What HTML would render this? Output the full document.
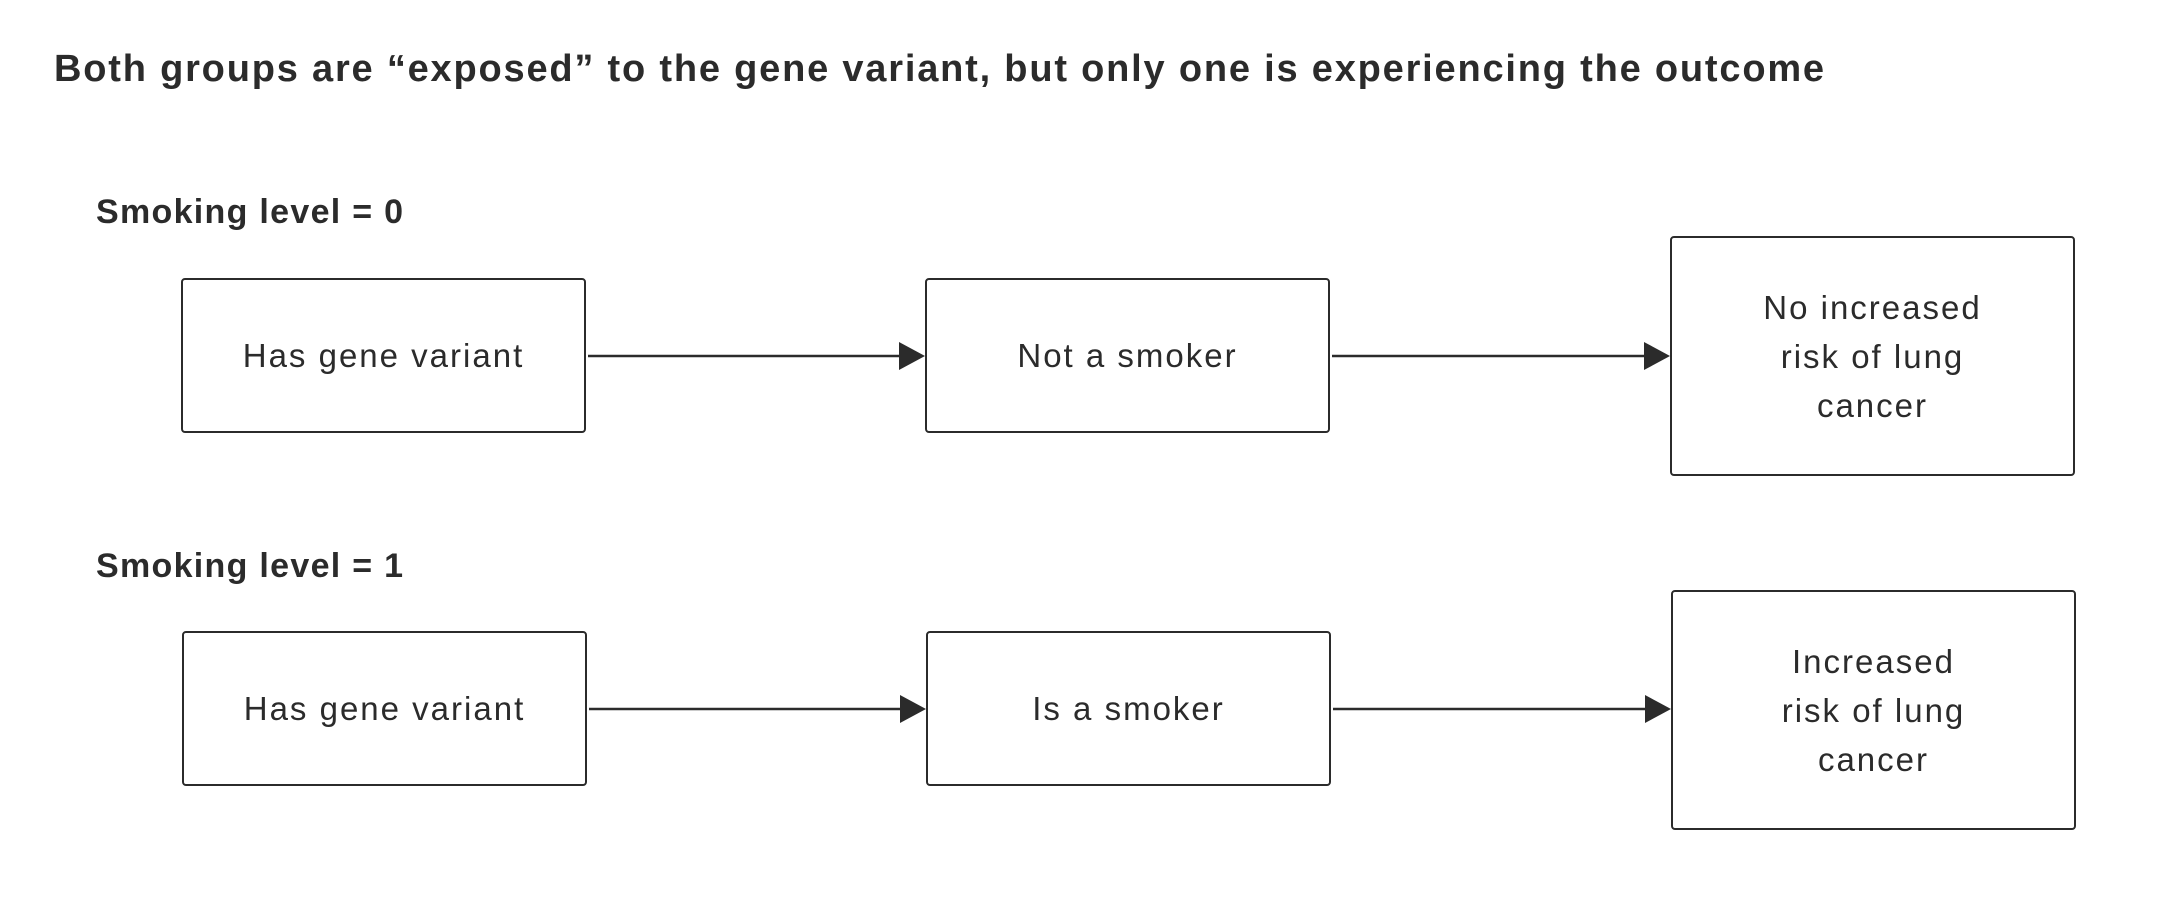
<!DOCTYPE html>
<html><head><meta charset="utf-8"><style>
body{margin:0;width:2171px;height:902px;background:#fff;position:relative;overflow:hidden;font-family:"Liberation Sans",sans-serif;color:#2b2b2b}
.t{position:absolute;white-space:nowrap;font-weight:bold}
.b{position:absolute;border:2.5px solid #2b2b2b;border-radius:4px;box-sizing:border-box;display:flex;align-items:center;justify-content:center;text-align:center;font-size:33px;line-height:49px;letter-spacing:2px}
</style></head><body>
<div class="t" style="left:54px;top:48px;font-size:38px;letter-spacing:1.8px">Both groups are “exposed” to the gene variant, but only one is experiencing the outcome</div>
<div class="t" style="left:96px;top:193px;font-size:34px;letter-spacing:1.3px">Smoking level = 0</div>
<div class="t" style="left:96px;top:547px;font-size:34px;letter-spacing:1.3px">Smoking level = 1</div>

<div class="b" style="left:181px;top:278px;width:405px;height:155px">Has gene variant</div>
<div class="b" style="left:925px;top:278px;width:405px;height:155px">Not a smoker</div>
<div class="b" style="left:1670px;top:236px;width:405px;height:240px">No increased<br>risk of lung<br>cancer</div>

<div class="b" style="left:182px;top:631px;width:405px;height:155px">Has gene variant</div>
<div class="b" style="left:926px;top:631px;width:405px;height:155px">Is a smoker</div>
<div class="b" style="left:1671px;top:590px;width:405px;height:240px">Increased<br>risk of lung<br>cancer</div>

<svg width="2171" height="902" style="position:absolute;left:0;top:0">
<g stroke="#2b2b2b" stroke-width="2.5" fill="#2b2b2b">
<line x1="588" y1="356" x2="900" y2="356"/><polygon points="899,342 925,356 899,370" stroke="none"/>
<line x1="1332" y1="356" x2="1645" y2="356"/><polygon points="1644,342 1670,356 1644,370" stroke="none"/>
<line x1="589" y1="709" x2="901" y2="709"/><polygon points="900,695 926,709 900,723" stroke="none"/>
<line x1="1333" y1="709" x2="1646" y2="709"/><polygon points="1645,695 1671,709 1645,723" stroke="none"/>
</g></svg>
</body></html>
